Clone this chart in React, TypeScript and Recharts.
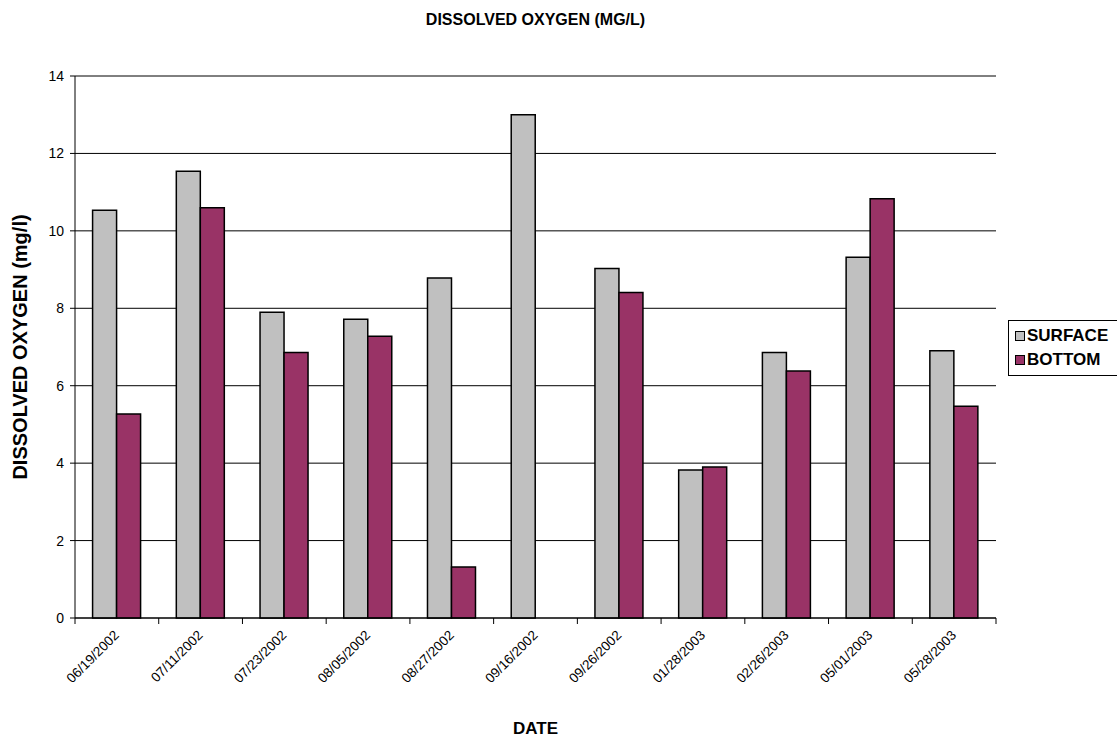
import { BarChart, Bar, XAxis, YAxis, CartesianGrid, Legend, ReferenceLine } from 'recharts';

const dates = ['06/19/2002', '07/11/2002', '07/23/2002', '08/05/2002', '08/27/2002', '09/16/2002', '09/26/2002', '01/28/2003', '02/26/2003', '05/01/2003', '05/28/2003'];
const surface = [10.53, 11.54, 7.9, 7.72, 8.78, 13.0, 9.03, 3.82, 6.86, 9.32, 6.9];
const bottom = [5.27, 10.6, 6.86, 7.28, 1.32, null, 8.41, 3.9, 6.38, 10.83, 5.47];
const yTicks = [0, 2, 4, 6, 8, 10, 12, 14];

const SURFACE_COLOR = '#C0C0C0';
const BOTTOM_COLOR = '#993366';
const FONT = 'Arial, "Liberation Sans", sans-serif';

const data = dates.map((d, i) => ({ date: d, SURFACE: surface[i], BOTTOM: bottom[i] }));

function DateTick(props: any) {
  const { x, y, payload, index } = props;
  const half = payload.offset ?? 0;
  const ax = x + 3;
  const ay = y + 18;
  return (
    <g>
      <line x1={x - half} y1={y} x2={x - half} y2={y + 6} stroke="#000" />
      {index === dates.length - 1 && <line x1={x + half} y1={y} x2={x + half} y2={y + 6} stroke="#000" />}
      <text x={ax} y={ay} textAnchor="end" fontSize={13.5} fill="#000" fontFamily={FONT} transform={`rotate(-45 ${ax} ${ay})`}>
        {payload.value}
      </text>
    </g>
  );
}

function LegendBox() {
  const items = [
    { name: 'SURFACE', color: SURFACE_COLOR },
    { name: 'BOTTOM', color: BOTTOM_COLOR },
  ];
  return (
    <div style={{ border: '1px solid #000', padding: '3px 0 3px 6px', background: '#fff', fontFamily: FONT }}>
      {items.map((it) => (
        <div key={it.name} style={{ display: 'flex', alignItems: 'center', height: 24, fontSize: 17, fontWeight: 'bold' }}>
          <span style={{ display: 'inline-block', width: 8, height: 8, background: it.color, border: '1px solid #000', marginRight: 2 }} />
          {it.name}
        </div>
      ))}
    </div>
  );
}

export default function App() {
  return (
    <div style={{ position: 'absolute', left: 0, top: 0, width: 1117, height: 738, overflow: 'hidden', background: '#fff', fontFamily: FONT }}>
      <BarChart width={1117} height={738} data={data} margin={{ top: 76, right: 121, bottom: 0, left: 0 }} barCategoryGap="21%" barGap={0}>
        <CartesianGrid vertical={false} stroke="#000" strokeWidth={1} />
        <XAxis
          dataKey="date"
          height={120}
          tickLine={false}
          tickSize={0}
          tickMargin={0}
          interval={0}
          axisLine={{ stroke: '#000' }}
          tick={<DateTick />}
          label={{
            content: (p: any) => {
              const vb = p.viewBox;
              return (
                <text x={vb.x + vb.width / 2} y={734} textAnchor="middle" fontSize={17} fontWeight="bold" fill="#000" fontFamily={FONT}>
                  DATE
                </text>
              );
            },
          }}
        />
        <YAxis
          width={75}
          domain={[0, 14]}
          ticks={yTicks}
          interval={0}
          tickSize={5}
          tickMargin={6}
          axisLine={{ stroke: '#000' }}
          tickLine={{ stroke: '#000' }}
          tick={{ fill: '#000', fontSize: 14, fontFamily: FONT }}
          label={{
            content: (p: any) => {
              const vb = p.viewBox;
              const cy = vb.y + vb.height / 2;
              return (
                <text x={27} y={cy} textAnchor="middle" fontSize={20} fontWeight="bold" fill="#000" fontFamily={FONT} transform={`rotate(-90 27 ${cy})`}>
                  DISSOLVED OXYGEN (mg/l)
                </text>
              );
            },
          }}
        />
        <YAxis yAxisId="r" orientation="right" width={0} tick={false} tickLine={false} axisLine={{ stroke: '#808080' }} domain={[0, 14]} />
        <ReferenceLine y={14} stroke="#808080" />
        <Legend
          layout="vertical"
          align="center"
          verticalAlign="middle"
          content={<LegendBox />}
          wrapperStyle={{ position: 'absolute', left: 1008, top: 320, width: 112 }}
        />
        <Bar dataKey="SURFACE" fill={SURFACE_COLOR} stroke="#000" strokeWidth={1.5} isAnimationActive={false} />
        <Bar dataKey="BOTTOM" fill={BOTTOM_COLOR} stroke="#000" strokeWidth={1.5} isAnimationActive={false} />
      </BarChart>
      <div style={{ position: 'absolute', left: 75, top: 11, width: 921, textAlign: 'center', fontSize: 16, fontWeight: 'bold' }}>
        DISSOLVED OXYGEN (MG/L)
      </div>
    </div>
  );
}
